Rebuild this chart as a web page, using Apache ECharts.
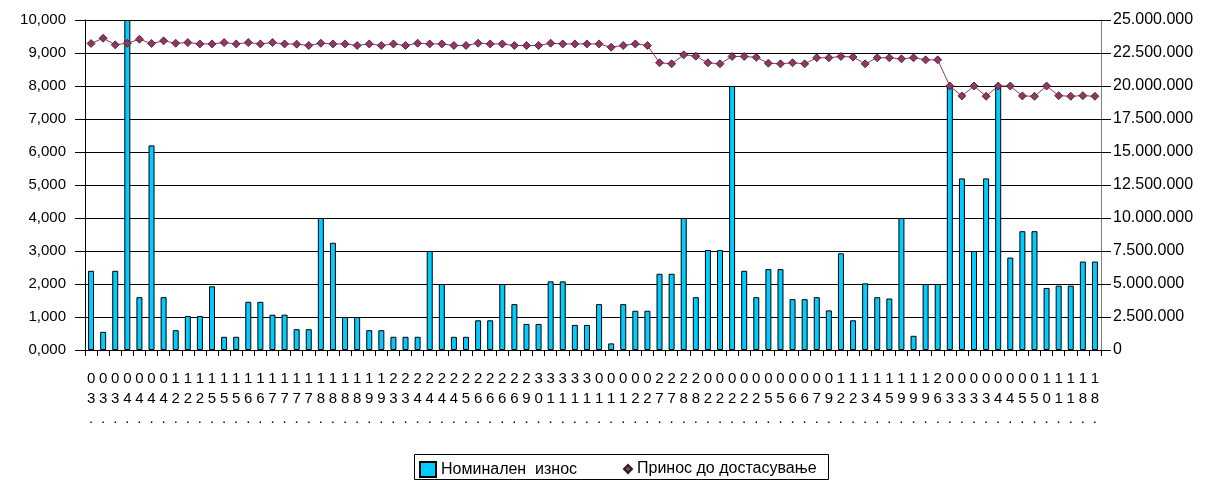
<!DOCTYPE html>
<html>
<head>
<meta charset="utf-8">
<script src="https://cdn.jsdelivr.net/npm/echarts@6/dist/echarts.min.js"></script>
<style>
  html, body { margin: 0; padding: 0; background: #fff; }
  #chart { width: 1216px; height: 480px; }
</style>
</head>
<body>
<div id="chart"></div>
<script>
  // x labels (day part of the dates, cut off as in the original)
  const days = [
    '03.', '03.', '03.', '04.', '04.', '04.', '04.', '12.', '12.', '12.',
    '15.', '15.', '15.', '16.', '16.', '17.', '17.', '17.', '17.', '18.',
    '18.', '18.', '18.', '19.', '19.', '23.', '23.', '24.', '24.', '24.',
    '24.', '25.', '26.', '26.', '26.', '26.', '29.', '30.', '31.', '31.',
    '31.', '31.', '01.', '01.', '01.', '02.', '02.', '27.', '27.', '28.',
    '28.', '02.', '02.', '02.', '02.', '02.', '05.', '05.', '06.', '06.',
    '07.', '09.', '12.', '12.', '13.', '14.', '15.', '19.', '19.', '19.',
    '26.', '03.', '03.', '03.', '03.', '04.', '04.', '05.', '05.', '10.',
    '11.', '11.', '18.', '18.'
  ]

  // Номинален износ (left axis)
  const nominal = [
    2.4, 0.55, 2.4, 10, 1.6, 6.2, 1.6, 0.6, 1.03, 1.03,
    1.93, 0.4, 0.4, 1.46, 1.46, 1.07, 1.07, 0.63, 0.63, 4.0,
    3.25, 1.0, 1.0, 0.6, 0.6, 0.4, 0.4, 0.4, 3.0, 2.0,
    0.4, 0.4, 0.9, 0.9, 2.0, 1.39, 0.79, 0.79, 2.08, 2.08,
    0.76, 0.76, 1.39, 0.2, 1.39, 1.19, 1.19, 2.31, 2.31, 4.0,
    1.6, 3.03, 3.03, 8.0, 2.4, 1.6, 2.45, 2.45, 1.54, 1.54,
    1.6, 1.2, 2.93, 0.9, 2.02, 1.6, 1.56, 4.0, 0.43, 2.0,
    2.0, 8.0, 5.2, 3.0, 5.2, 8.0, 2.8, 3.6, 3.6, 1.88,
    1.95, 1.95, 2.68, 2.68
  ]

  // Принос до достасување (right axis, in millions)
  const yieldMil = [
    23.22, 23.62, 23.12, 23.24, 23.54, 23.22, 23.42, 23.24, 23.29, 23.19,
    23.19, 23.29, 23.19, 23.29, 23.19, 23.29, 23.19, 23.17, 23.07, 23.24,
    23.19, 23.19, 23.07, 23.19, 23.07, 23.19, 23.07, 23.24, 23.19, 23.19,
    23.07, 23.07, 23.24, 23.19, 23.19, 23.07, 23.07, 23.07, 23.24, 23.19,
    23.19, 23.19, 23.19, 22.94, 23.07, 23.19, 23.07, 21.76, 21.68, 22.36,
    22.26, 21.76, 21.68, 22.24, 22.24, 22.17, 21.73, 21.68, 21.76, 21.68,
    22.14, 22.14, 22.24, 22.19, 21.68, 22.14, 22.14, 22.06, 22.14, 21.98,
    21.98, 20.0, 19.25, 20.0, 19.22, 20.0, 20.0, 19.25, 19.22, 20.0,
    19.27, 19.22, 19.27, 19.22
  ]

  const FONT = 'Liberation Sans'

  function dotted (v) {
    if (v === 0) return '0'
    return String(Math.round(v * 1e6)).replace(/\B(?=(\d{3})+(?!\d))/g, '.')
  }

  const myChart = echarts.init(document.getElementById('chart'))
  myChart.setOption({
    animation: false,
    textStyle: { fontFamily: FONT },
    grid: {
      left: 85,
      right: 115,
      top: 20,
      bottom: 130,
      outerBoundsMode: 'none'
    },
    legend: [
      {
        left: 419,
        top: 461,
        padding: 0,
        itemWidth: 16,
        itemHeight: 15,
        icon: 'rect',
        data: ['Номинален  износ'],
        textStyle: { fontFamily: FONT, fontSize: 16, color: '#000' }
      },
      {
        left: 623,
        top: 461,
        padding: 0,
        itemWidth: 8,
        itemHeight: 8,
        icon: 'diamond',
        data: ['Принос до достасување'],
        textStyle: { fontFamily: FONT, fontSize: 16, color: '#000' }
      }
    ],
    graphic: [
      {
        type: 'rect',
        shape: { x: 414.5, y: 454.5, width: 414, height: 25 },
        style: { fill: 'none', stroke: '#000', lineWidth: 1 },
        silent: true
      }
    ],
    xAxis: {
      type: 'category',
      data: days,
      boundaryGap: true,
      axisLine: { lineStyle: { color: '#000' } },
      axisTick: { show: true, length: 6, interval: 0, lineStyle: { color: '#000' } },
      axisLabel: {
        interval: 0,
        margin: 19,
        color: '#000',
        fontSize: 15,
        lineHeight: 20,
        formatter: function (s) { return s.split('').join('\n') }
      }
    },
    yAxis: [
      {
        type: 'value',
        min: 0,
        max: 10,
        interval: 1,
        axisLine: { show: true, lineStyle: { color: '#000' } },
        axisTick: { show: true, length: 10, lineStyle: { color: '#000' } },
        splitLine: { show: true, lineStyle: { color: '#000', width: 1 } },
        axisLabel: {
          color: '#000',
          fontSize: 15,
          margin: 19,
          formatter: function (v) { return v.toFixed(3).replace('.', ',') }
        }
      },
      {
        type: 'value',
        min: 0,
        max: 25,
        interval: 2.5,
        position: 'right',
        axisLine: { show: true, lineStyle: { color: '#808080' } },
        axisTick: { show: true, length: 10, lineStyle: { color: '#000' } },
        splitLine: { show: false },
        axisLabel: {
          color: '#000',
          fontSize: 16,
          margin: 12,
          formatter: dotted
        }
      }
    ],
    series: [
      {
        name: 'Номинален  износ',
        type: 'bar',
        data: nominal,
        barWidth: 6,
        itemStyle: {
          color: '#00CCFF',
          borderColor: '#000',
          borderWidth: 1
        }
      },
      {
        name: 'Принос до достасување',
        type: 'line',
        yAxisIndex: 1,
        data: yieldMil,
        symbol: 'diamond',
        symbolSize: 8,
        lineStyle: { color: '#993366', width: 1 },
        itemStyle: { color: '#993366', borderColor: '#222', borderWidth: 0.8 }
      }
    ]
  })
</script>
</body>
</html>
